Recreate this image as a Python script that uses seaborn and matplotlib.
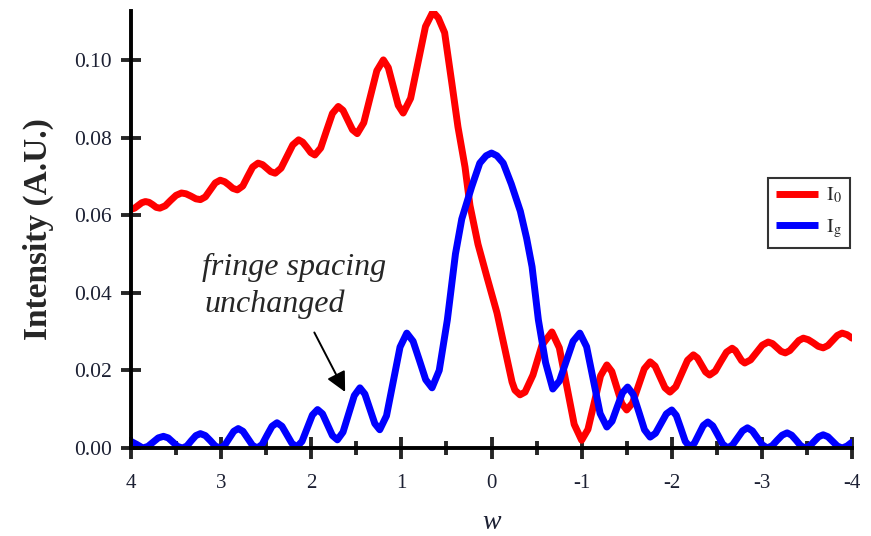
import numpy as np
import pandas as pd
import seaborn as sns
import matplotlib.pyplot as plt
from matplotlib.ticker import MultipleLocator, FormatStrFormatter

# values (peaks, troughs, shoulders and slope points)
w_i0 = [4.00, 3.96, 3.92, 3.88, 3.84, 3.80, 3.76, 3.72, 3.68, 3.62, 3.56, 3.50, 3.44,
        3.39, 3.335, 3.28, 3.23, 3.175, 3.12, 3.065, 3.01, 2.96, 2.915, 2.87, 2.82,
        2.76, 2.705, 2.65, 2.59, 2.54, 2.495, 2.45, 2.40, 2.335, 2.27, 2.205, 2.14,
        2.095, 2.05, 2.005, 1.96, 1.895, 1.83, 1.765, 1.70, 1.6475, 1.595, 1.5425, 1.49,
        1.4175, 1.345, 1.2725, 1.20, 1.145, 1.09, 1.035, 0.98, 0.8975, 0.815, 0.7325,
        0.65, 0.59, 0.52, 0.44, 0.372, 0.294, 0.239, 0.150, 0.050, -0.061, -0.150,
        -0.228, -0.26, -0.316, -0.372, -0.46, -0.56, -0.67, -0.7525, -0.835, -0.9175,
        -1.00, -1.07, -1.14, -1.21, -1.28, -1.335, -1.39, -1.445, -1.50, -1.565, -1.63,
        -1.695, -1.76, -1.815, -1.87, -1.925, -1.98, -2.045, -2.11, -2.175, -2.24,
        -2.285, -2.33, -2.375, -2.42, -2.4825, -2.545, -2.6075, -2.67, -2.705, -2.74,
        -2.775, -2.81, -2.875, -2.94, -3.005, -3.07, -3.1175, -3.165, -3.2125, -3.26,
        -3.31, -3.36, -3.41, -3.46, -3.515, -3.57, -3.625, -3.68, -3.7325, -3.785,
        -3.8375, -3.89, -3.945, -4.00]
i0 = [0.0615, 0.0618, 0.0625, 0.0632, 0.0635, 0.0633, 0.0627, 0.0620, 0.0618, 0.0624,
      0.0638, 0.0651, 0.0657, 0.0655, 0.0649, 0.0642, 0.0640, 0.0647, 0.0665, 0.0683,
      0.0690, 0.0686, 0.0678, 0.0669, 0.0665, 0.0675, 0.0700, 0.0724, 0.0734, 0.0730,
      0.0721, 0.0712, 0.0708, 0.0721, 0.0751, 0.0781, 0.0794, 0.0788, 0.0775, 0.0761,
      0.0755, 0.0773, 0.0818, 0.0862, 0.0880, 0.0870, 0.0845, 0.0820, 0.0810, 0.0838,
      0.0905, 0.0972, 0.1000, 0.0980, 0.0932, 0.0883, 0.0863, 0.0901, 0.0994, 0.1086,
      0.1124, 0.1108, 0.1070, 0.0940, 0.0827, 0.0724, 0.0625, 0.0525, 0.0440, 0.0348,
      0.0253, 0.0170, 0.0149, 0.0137, 0.0144, 0.0188, 0.0265, 0.0299, 0.0258, 0.0160,
      0.0061, 0.0020, 0.0048, 0.0117, 0.0186, 0.0214, 0.0197, 0.0156, 0.0115, 0.0098,
      0.0116, 0.0160, 0.0204, 0.0222, 0.0211, 0.0183, 0.0155, 0.0144, 0.0158, 0.0192,
      0.0226, 0.0240, 0.0232, 0.0214, 0.0196, 0.0188, 0.0198, 0.0223, 0.0247, 0.0257,
      0.0251, 0.0238, 0.0225, 0.0219, 0.0227, 0.0246, 0.0265, 0.0273, 0.0269, 0.0259,
      0.0249, 0.0245, 0.0251, 0.0264, 0.0277, 0.0283, 0.0279, 0.0271, 0.0262, 0.0258,
      0.0264, 0.0277, 0.0290, 0.0296, 0.0292, 0.0283]

w_ig = [4.00, 3.935, 3.87, 3.8125, 3.755, 3.6975, 3.64, 3.5875, 3.535, 3.4825, 3.43,
        3.38, 3.33, 3.28, 3.23, 3.175, 3.12, 3.065, 3.01, 2.96, 2.91, 2.86, 2.81,
        2.7575, 2.705, 2.6525, 2.60, 2.545, 2.49, 2.435, 2.38, 2.325, 2.27, 2.215,
        2.16, 2.1025, 2.045, 1.9875, 1.93, 1.875, 1.82, 1.765, 1.71, 1.6475, 1.585,
        1.5225, 1.46, 1.405, 1.35, 1.295, 1.24, 1.165, 1.09, 1.015, 0.94, 0.87, 0.80,
        0.73, 0.66, 0.58, 0.49, 0.40, 0.33, 0.22, 0.13, 0.06, 0.00, -0.06, -0.13,
        -0.22, -0.32, -0.39, -0.45, -0.52, -0.60, -0.68, -0.755, -0.83, -0.905, -0.98,
        -1.055, -1.13, -1.205, -1.28, -1.3375, -1.395, -1.4525, -1.51, -1.5725, -1.635,
        -1.6975, -1.76, -1.82, -1.88, -1.94, -2.00, -2.05, -2.10, -2.15, -2.20, -2.25,
        -2.30, -2.35, -2.40, -2.455, -2.51, -2.565, -2.62, -2.675, -2.73, -2.785, -2.84,
        -2.895, -2.95, -3.005, -3.06, -3.115, -3.17, -3.225, -3.28, -3.33, -3.38, -3.43,
        -3.48, -3.53, -3.58, -3.63, -3.68, -3.7325, -3.785, -3.8375, -3.89, -3.945,
        -4.00]
ig = [0.0017, 0.0009, 0.0000, 0.0004, 0.0015, 0.0026, 0.0030, 0.0026, 0.0015, 0.0004,
      0.0000, 0.0005, 0.0019, 0.0032, 0.0037, 0.0032, 0.0019, 0.0005, 0.0000, 0.0007,
      0.0025, 0.0043, 0.0050, 0.0043, 0.0025, 0.0007, 0.0000, 0.0009, 0.0033, 0.0056,
      0.0065, 0.0056, 0.0034, 0.0012, 0.0003, 0.0017, 0.0051, 0.0085, 0.0099, 0.0088,
      0.0060, 0.0032, 0.0021, 0.0041, 0.0088, 0.0135, 0.0155, 0.0139, 0.0101, 0.0063,
      0.0047, 0.0083, 0.0172, 0.0260, 0.0296, 0.0275, 0.0226, 0.0176, 0.0155, 0.0200,
      0.0330, 0.0500, 0.0590, 0.0673, 0.0734, 0.0753, 0.0760, 0.0753, 0.0734, 0.0680,
      0.0610, 0.0540, 0.0467, 0.0330, 0.0220, 0.0152, 0.0173, 0.0224, 0.0275, 0.0296,
      0.0261, 0.0175, 0.0089, 0.0054, 0.0069, 0.0106, 0.0142, 0.0157, 0.0138, 0.0093,
      0.0047, 0.0028, 0.0038, 0.0063, 0.0088, 0.0098, 0.0084, 0.0051, 0.0017, 0.0003,
      0.0012, 0.0035, 0.0058, 0.0067, 0.0057, 0.0034, 0.0010, 0.0000, 0.0008, 0.0026,
      0.0044, 0.0052, 0.0044, 0.0026, 0.0008, 0.0000, 0.0006, 0.0020, 0.0033, 0.0039,
      0.0033, 0.0020, 0.0006, 0.0000, 0.0005, 0.0017, 0.0029, 0.0034, 0.0029, 0.0017,
      0.0005, 0.0000, 0.0005, 0.0015]

x_ticks = [4, 3, 2, 1, 0, -1, -2, -3, -4]
y_ticks = [0.00, 0.02, 0.04, 0.06, 0.08, 0.10]

df_i0 = pd.DataFrame({'w': w_i0, 'I': i0})
df_ig = pd.DataFrame({'w': w_ig, 'I': ig})

sns.set_style('ticks')
plt.rcParams['font.family'] = ['Liberation Serif', 'DejaVu Serif']
plt.rcParams['mathtext.fontset'] = 'stix'
plt.rcParams['axes.unicode_minus'] = False

fig = plt.figure(figsize=(8.71, 5.36), dpi=100)
ax = fig.add_axes([0.1504, 0.1642, 0.8278, 0.8153])

line_kw = dict(linewidth=5, solid_joinstyle='round', solid_capstyle='round')
sns.lineplot(data=df_i0, x='w', y='I', color='#ff0000', label=r'$\mathrm{I}_0$', ax=ax, **line_kw)
sns.lineplot(data=df_ig, x='w', y='I', color='#0000ff', label=r'$\mathrm{I}_\mathrm{g}$', ax=ax, **line_kw)

ax.set_xlim(4, -4)
ax.set_ylim(0, 0.1126)
ax.set_xticks(x_ticks)
ax.xaxis.set_minor_locator(MultipleLocator(0.5))
ax.set_yticks(y_ticks)
ax.yaxis.set_major_formatter(FormatStrFormatter('%.2f'))

for side in ['top', 'right']:
    ax.spines[side].set_visible(False)
for side in ['left', 'bottom']:
    ax.spines[side].set_linewidth(2.8)
    ax.spines[side].set_color('black')

ax.tick_params(axis='x', which='major', direction='inout', length=16, width=2.8,
               labelsize=15, pad=11, labelcolor='#1c2033')
ax.tick_params(axis='x', which='minor', direction='inout', length=10, width=2.8)
ax.tick_params(axis='y', which='major', direction='inout', length=14, width=2.8,
               labelsize=15.5, pad=7, labelcolor='#1c2033')

ax.set_xlabel('w', fontstyle='italic', fontsize=20, labelpad=12, color='#1c2033')
ax.set_ylabel('Intensity (A.U.)', fontweight='bold', fontsize=24, labelpad=14)

ax.text(3.21, 0.0446, 'fringe spacing', fontstyle='italic', fontsize=23, va='baseline')
ax.text(3.18, 0.0350, 'unchanged', fontstyle='italic', fontsize=23, va='baseline')
ax.annotate('', xy=(1.61, 0.0138), xytext=(1.98, 0.0304),
            arrowprops=dict(arrowstyle='-|>', color='black', lw=1.4, mutation_scale=30))

leg = ax.legend(loc='upper left', bbox_to_anchor=(0.8835, 0.618), borderaxespad=0,
                fontsize=14.5, handlelength=2.1, handletextpad=0.4, borderpad=0.4,
                labelspacing=0.55, fancybox=False, framealpha=1, edgecolor='#333333')
leg.get_frame().set_linewidth(1.5)
for handle in leg.get_lines():
    handle.set_solid_capstyle('butt')

plt.savefig('out.png', dpi=100)
